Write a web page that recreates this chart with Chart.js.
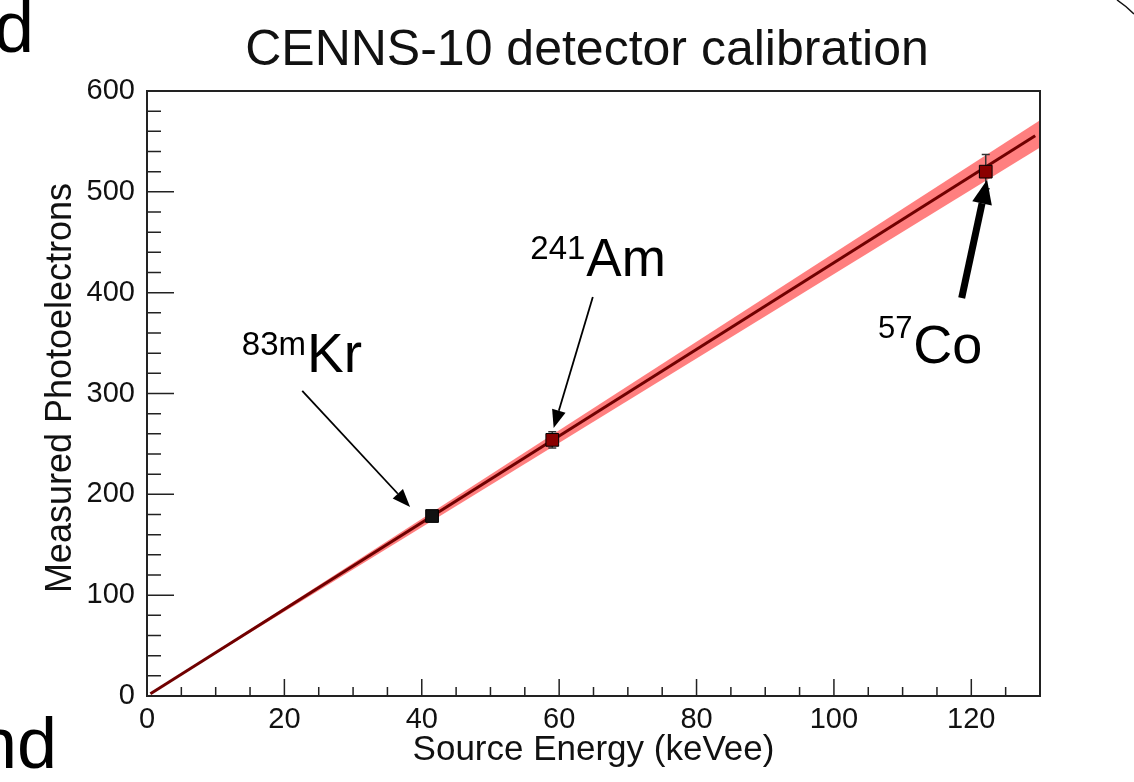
<!DOCTYPE html>
<html>
<head>
<meta charset="utf-8">
<script src="https://cdn.jsdelivr.net/npm/chart.js@4"></script>
<style>
  html,body{margin:0;padding:0;background:#fff;}
  #calib{display:block;}
</style>
</head>
<body>
<canvas id="calib" width="1134" height="782"></canvas>
<script>
// calibration sources: energy (keVee) vs measured photoelectrons
const srcNames  = ['83mKr', '241Am', '57Co'];
const srcEnergy = [41.5, 59.0, 122.1];
const srcPE     = [178.5, 254, 520];
const srcErr    = [3, 8, 17];
const srcColors = ['#111111', '#8a0000', '#8b0000'];

// linear fit + 1 sigma band
const fitE     = [0.5, 129.3];
const fitPE    = [2.2, 555.6];
const bandE    = [0, 130];
const bandHigh = [0, 571];
const bandLow  = [0, 544];

const xTicks = [0, 20, 40, 60, 80, 100, 120];
const yTicks = [0, 100, 200, 300, 400, 500, 600];

const FONT = '"Liberation Sans", Helvetica, Arial, sans-serif';

// arrow labels, in axis units
const notes = [
  { sup:'83m', main:'Kr', at:[13.8, 321.4], rise:17, supSize:33, mainSize:55, from:[22.6, 302.6], to:[38.3, 187.5], lw:1.8, head:[18, 7] },
  { sup:'241', main:'Am', at:[55.8, 416.7], rise:17, supSize:33, mainSize:53, from:[64.9, 395.8], to:[59.2, 265.9], lw:1.8, head:[18, 7] },
  { sup:'57',  main:'Co', at:[106.4, 330.0], rise:25, supSize:31, mainSize:54, from:[118.6, 394.8], to:[122.3, 511.9], lw:7, head:[24, 10] }
];

function drawArrow(ctx, x0, y0, x1, y1, lw, len, half){
  const a = Math.atan2(y1-y0, x1-x0);
  const bx = x1 - len*Math.cos(a), by = y1 - len*Math.sin(a);
  ctx.lineWidth = lw;
  ctx.beginPath(); ctx.moveTo(x0, y0); ctx.lineTo(bx, by); ctx.stroke();
  ctx.beginPath();
  ctx.moveTo(x1, y1);
  ctx.lineTo(bx - half*Math.sin(a), by + half*Math.cos(a));
  ctx.lineTo(bx + half*Math.sin(a), by - half*Math.cos(a));
  ctx.closePath(); ctx.fill();
}

const rootStyle = {
  id: 'rootStyle',
  beforeDraw(chart){
    const ctx = chart.ctx;
    ctx.save();
    ctx.fillStyle = '#fff';
    ctx.fillRect(0, 0, chart.width, chart.height);
    ctx.restore();
  },
  // error bars go under the markers
  afterDatasetDraw(chart, args){
    if(args.index !== 1) return;
    const ctx = chart.ctx, xs = chart.scales.x, ys = chart.scales.y;
    ctx.save();
    ctx.strokeStyle = '#333'; ctx.lineWidth = 1.5;
    srcEnergy.forEach((e, i)=>{
      const px = xs.getPixelForValue(e);
      const hi = ys.getPixelForValue(srcPE[i] + srcErr[i]);
      const lo = ys.getPixelForValue(srcPE[i] - srcErr[i]);
      ctx.beginPath();
      ctx.moveTo(px, hi); ctx.lineTo(px, lo);
      ctx.moveTo(px-4, hi); ctx.lineTo(px+4, hi);
      ctx.moveTo(px-4, lo); ctx.lineTo(px+4, lo);
      ctx.stroke();
    });
    ctx.restore();
  },
  afterDraw(chart){
    const ctx = chart.ctx, xs = chart.scales.x, ys = chart.scales.y;
    const a = chart.chartArea;
    ctx.save();

    // frame
    ctx.strokeStyle = '#222'; ctx.lineWidth = 2;
    ctx.strokeRect(a.left, a.top, a.right - a.left, a.bottom - a.top);

    // inward ticks
    ctx.lineWidth = 1.5;
    ctx.beginPath();
    for(let v = 5; v < 130; v += 5){
      const px = xs.getPixelForValue(v);
      const len = (v % 20 === 0) ? 17 : 9;
      ctx.moveTo(px, a.bottom); ctx.lineTo(px, a.bottom - len);
    }
    for(let v = 20; v < 600; v += 20){
      const py = ys.getPixelForValue(v);
      const len = (v % 100 === 0) ? 27 : 14;
      ctx.moveTo(a.left, py); ctx.lineTo(a.left + len, py);
    }
    ctx.stroke();

    // arrows + labels
    ctx.fillStyle = '#000'; ctx.strokeStyle = '#000';
    notes.forEach(n=>{
      drawArrow(ctx,
        xs.getPixelForValue(n.from[0]), ys.getPixelForValue(n.from[1]),
        xs.getPixelForValue(n.to[0]),   ys.getPixelForValue(n.to[1]),
        n.lw, n.head[0], n.head[1]);
      const px = xs.getPixelForValue(n.at[0]);
      const py = ys.getPixelForValue(n.at[1]);
      ctx.textAlign = 'left'; ctx.textBaseline = 'alphabetic';
      ctx.font = n.supSize + 'px ' + FONT;
      ctx.fillText(n.sup, px, py - n.rise);
      const w = ctx.measureText(n.sup).width;
      ctx.font = n.mainSize + 'px ' + FONT;
      ctx.fillText(n.main, px + w + 1, py);
    });

    // titles
    ctx.fillStyle = '#111';
    ctx.textAlign = 'center';
    ctx.font = '50px ' + FONT;
    ctx.fillText('CENNS-10 detector calibration', 587, 65);
    ctx.font = '35px ' + FONT;
    ctx.fillText('Source Energy (keVee)', (a.left + a.right)/2, 760);
    ctx.save();
    ctx.translate(71, 388);
    ctx.rotate(-Math.PI/2);
    ctx.font = '36px ' + FONT;
    ctx.fillText('Measured Photoelectrons', 0, 0);
    ctx.restore();

    // slide text cut off at the edges
    ctx.fillStyle = '#000';
    ctx.textAlign = 'left';
    ctx.font = '72px ' + FONT;
    ctx.fillText('d', -6, 52);
    ctx.fillText('nd', -23, 768);
    ctx.strokeStyle = '#111'; ctx.lineWidth = 1.5;
    ctx.beginPath();
    ctx.moveTo(1117, 0);
    ctx.quadraticCurveTo(1126, 6, 1134, 14);
    ctx.stroke();

    ctx.restore();
  }
};

const tickFont = { family: FONT, size: 29 };

new Chart(document.getElementById('calib'), {
  type: 'scatter',
  data: {
    datasets: [
      {
        label: 'sources',
        data: srcEnergy.map((e, i)=>({ x: e, y: srcPE[i] })),
        pointStyle: 'rect',
        pointRadius: 9,
        pointBackgroundColor: srcColors,
        pointBorderColor: '#000',
        pointBorderWidth: 1,
        order: 0
      },
      {
        label: 'fit',
        data: fitE.map((e, i)=>({ x: e, y: fitPE[i] })),
        showLine: true,
        borderColor: '#700000',
        borderWidth: 3,
        pointRadius: 0,
        order: 1
      },
      {
        label: 'band low',
        data: bandE.map((e, i)=>({ x: e, y: bandLow[i] })),
        showLine: true,
        borderColor: 'rgba(0,0,0,0)',
        pointRadius: 0,
        fill: false,
        order: 2
      },
      {
        label: 'band high',
        data: bandE.map((e, i)=>({ x: e, y: bandHigh[i] })),
        showLine: true,
        borderColor: 'rgba(0,0,0,0)',
        backgroundColor: 'rgba(255,0,0,0.5)',
        pointRadius: 0,
        fill: '-1',
        order: 3
      }
    ]
  },
  options: {
    responsive: false,
    animation: false,
    layout: { padding: { top: 91, right: 94, left: 0, bottom: 0 } },
    plugins: { legend: { display: false }, tooltip: { enabled: false } },
    scales: {
      x: {
        type: 'linear', min: 0, max: 130,
        grid: { display: false, drawTicks: false },
        border: { display: false },
        afterBuildTicks: s => { s.ticks = xTicks.map(v => ({ value: v })); },
        afterFit: s => { s.height = 86; },
        ticks: { font: tickFont, color: '#111', padding: 7, maxRotation: 0, autoSkip: false }
      },
      y: {
        type: 'linear', min: 0, max: 600,
        grid: { display: false, drawTicks: false },
        border: { display: false },
        afterBuildTicks: s => { s.ticks = yTicks.map(v => ({ value: v })); },
        afterFit: s => { s.width = 147; },
        ticks: { font: tickFont, color: '#111', padding: 12, autoSkip: false }
      }
    }
  },
  plugins: [rootStyle]
});
</script>
</body>
</html>
